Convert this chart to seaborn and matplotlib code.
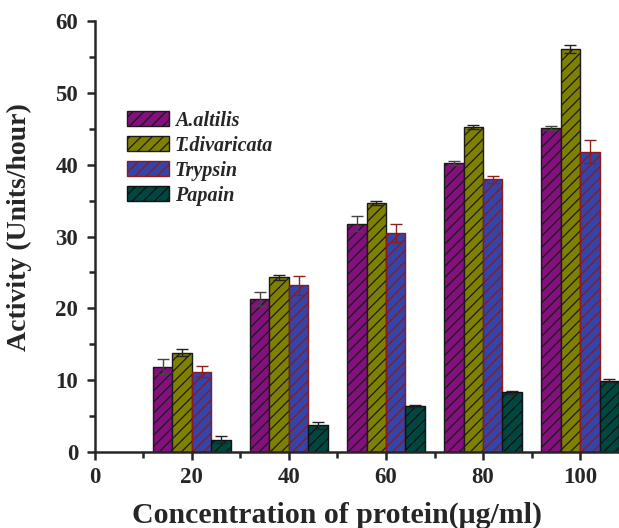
import numpy as np
import pandas as pd
import matplotlib
matplotlib.use("Agg")
import matplotlib.pyplot as plt
import seaborn as sns

# Values
conc = [20, 40, 60, 80, 100]
series_names = ["A.altilis", "T.divaricata", "Trypsin", "Papain"]
altilis = [11.9, 21.3, 31.8, 40.2, 45.1]
altilis_err = [1.0, 1.0, 1.0, 0.3, 0.3]
divaricata = [13.8, 24.3, 34.7, 45.3, 56.1]
divaricata_err = [0.5, 0.3, 0.3, 0.3, 0.6]
trypsin = [11.2, 23.2, 30.5, 38.0, 41.8]
trypsin_err = [0.75, 1.3, 1.3, 0.5, 1.6]
papain = [1.7, 3.7, 6.4, 8.3, 9.9]
papain_err = [0.5, 0.5, 0.2, 0.2, 0.2]

face_colors = ["#84107e", "#808000", "#3444a8", "#00473f"]
edge_colors = ["#1a1a1a", "#1a1a1a", "#8b1a1a", "#111111"]
err_colors = ["#444444", "#222222", "#8b2020", "#222222"]

values = [altilis, divaricata, trypsin, papain]
errors = [altilis_err, divaricata_err, trypsin_err, papain_err]

df = pd.DataFrame({
    "conc": np.tile(conc, 4),
    "activity": np.concatenate(values),
    "err": np.concatenate(errors),
    "series": np.repeat(series_names, len(conc)),
})

sns.set_style("ticks")
plt.rcParams["font.family"] = ["Liberation Serif", "DejaVu Serif"]
plt.rcParams["font.weight"] = "bold"
plt.rcParams["hatch.linewidth"] = 0.9

fig = plt.figure(figsize=(6.19, 5.28), dpi=100)
ax = fig.add_axes([0.153, 0.144, 0.847, 0.816])

sns.barplot(data=df, x="conc", y="activity", hue="series", hue_order=series_names,
            native_scale=True, errorbar=None, palette=face_colors, ax=ax,
            width=0.8, saturation=1)

# style bars per series and add error bars at bar centers
for container, ec, erc, errs in zip(ax.containers, edge_colors, err_colors, errors):
    xs, ys = [], []
    for patch in container:
        patch.set_edgecolor(ec)
        patch.set_linewidth(1.0)
        patch.set_hatch("///")
        xs.append(patch.get_x() + patch.get_width() / 2)
        ys.append(patch.get_height())
    ax.errorbar(xs, ys, yerr=errs, fmt="none", ecolor=erc, elinewidth=1.0,
                capsize=4, capthick=1.0)

ax.set_xlim(0, 108)
ax.set_ylim(0, 60)
ax.set_xticks([0, 20, 40, 60, 80, 100])
ax.set_xticks([10, 30, 50, 70, 90], minor=True)
ax.set_yticks([0, 10, 20, 30, 40, 50, 60])
ax.set_yticks([5, 15, 25, 35, 45, 55], minor=True)
ax.tick_params(axis="both", which="major", direction="out", length=6, width=1.8,
               labelsize=16.5)
ax.tick_params(axis="x", which="major", pad=5)
ax.tick_params(axis="y", which="major", pad=6)
ax.tick_params(axis="both", which="minor", direction="out", length=4, width=1.8)
for lab in ax.get_xticklabels() + ax.get_yticklabels():
    lab.set_fontweight("bold")

ax.set_xlabel("Concentration of protein(\u03bcg/ml)", fontsize=21.5, fontweight="bold")
ax.set_ylabel("Activity (Units/hour)", fontsize=20, fontweight="bold")
ax.xaxis.set_label_coords(0.462, -0.115)
ax.yaxis.set_label_coords(-0.12, 0.522)

for side in ["top", "right"]:
    ax.spines[side].set_visible(False)
for side in ["left", "bottom"]:
    ax.spines[side].set_linewidth(1.8)

handles, labels = ax.get_legend_handles_labels()
for h, ec in zip(handles, edge_colors):
    h.set_edgecolor(ec)
    h.set_hatch("///")
ax.legend(handles, labels, loc="upper left", bbox_to_anchor=(0.061, 0.792),
          frameon=False, prop={"weight": "bold", "style": "italic", "size": 14.5},
          handlelength=2.1, handleheight=0.75, labelspacing=0.25, handletextpad=0.3,
          borderpad=0, borderaxespad=0)

fig.savefig("out.png", dpi=100)
